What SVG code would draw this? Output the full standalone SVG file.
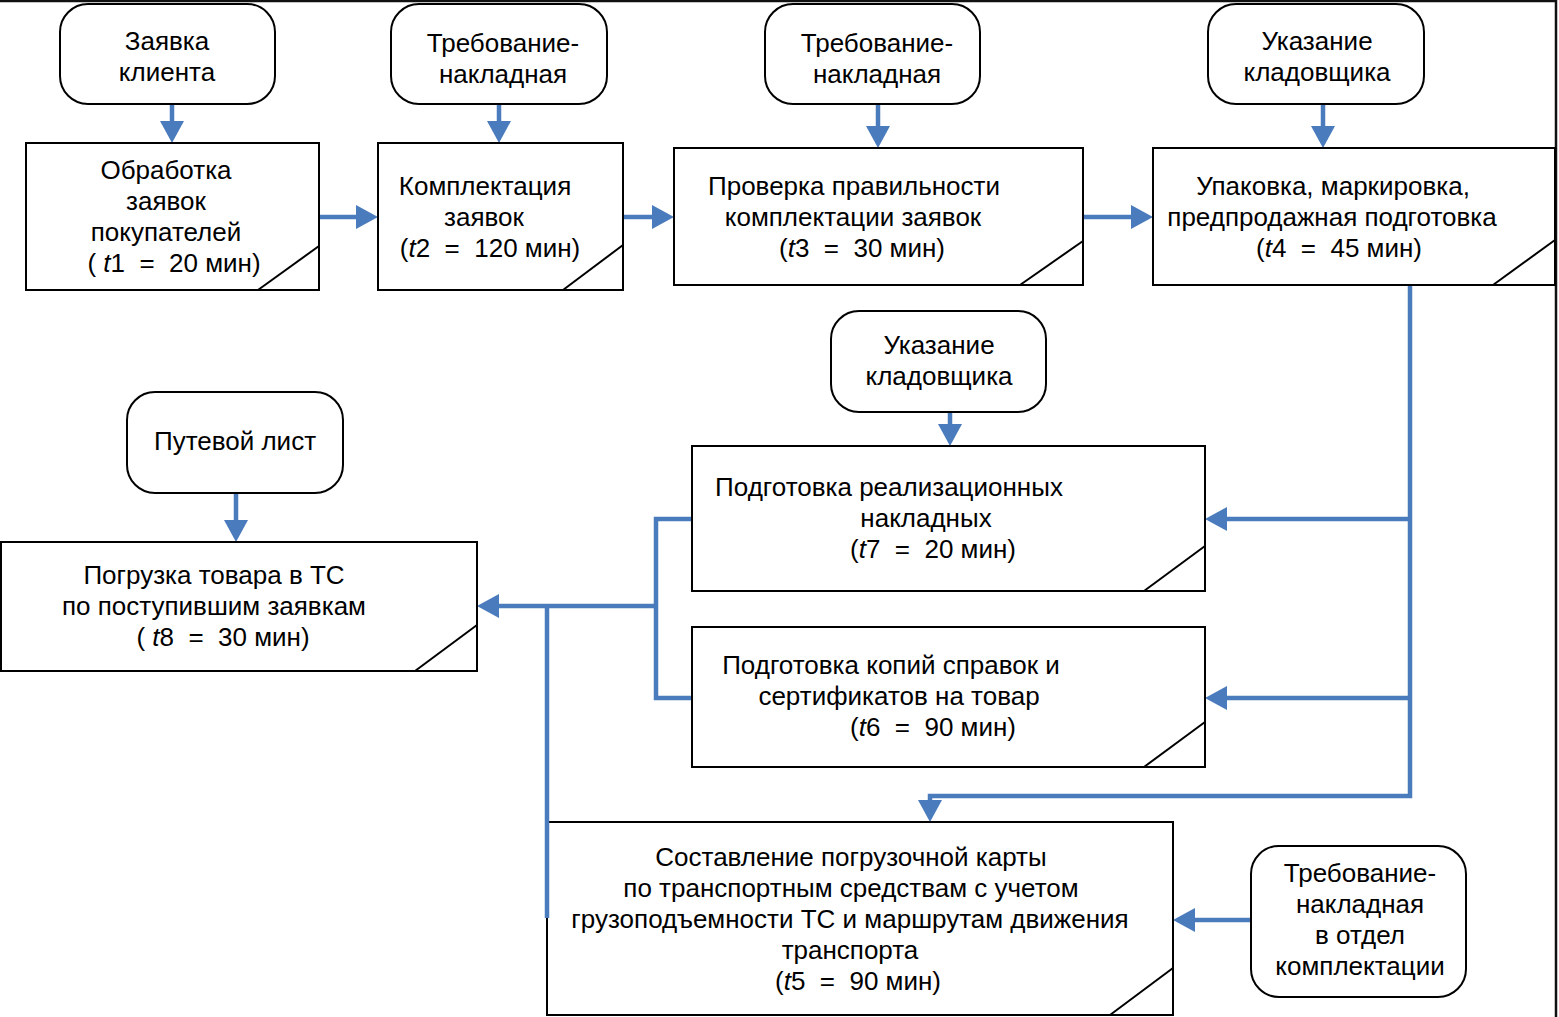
<svg xmlns="http://www.w3.org/2000/svg" width="1559" height="1017" viewBox="0 0 1559 1017">
<style>
text{font-family:"Liberation Sans",Arial,sans-serif;font-size:26px;fill:#000;text-anchor:middle;white-space:pre}
.doc{fill:#fff;stroke:#000;stroke-width:2}
.box{fill:#fff;stroke:#000;stroke-width:2}
.diag{stroke:#000;stroke-width:2;fill:none}
.con{fill:none;stroke:#4a7bbd;stroke-width:4.5;stroke-linejoin:miter}
.arr{marker-end:url(#ah)}
.i{font-style:italic}
</style>
<defs>
<marker id="ah" markerUnits="userSpaceOnUse" markerWidth="24" markerHeight="24" refX="0" refY="12" orient="auto" overflow="visible">
<path d="M0,0 L22,12 L0,24 z" fill="#4a7bbd"/>
</marker>
</defs>
<rect width="1559" height="1017" fill="#fff"/>
<path d="M0,1 H1556 V1017" fill="none" stroke="#111" stroke-width="2.5"/>

<g id="connectors">
<path class="con arr" d="M172,104 V121"/>
<path class="con arr" d="M499,104 V121"/>
<path class="con arr" d="M878,104 V126"/>
<path class="con arr" d="M1323,104 V126"/>
<path class="con arr" d="M950,412 V424"/>
<path class="con arr" d="M236,493 V520"/>
<path class="con arr" d="M319,217 H356"/>
<path class="con arr" d="M623,217 H652"/>
<path class="con arr" d="M1083,217 H1131"/>
<path class="con arr" d="M1410,285 V796 H930 V800"/>
<path class="con arr" d="M1410,519 H1227"/>
<path class="con arr" d="M1410,698 H1227"/>
<path class="con" d="M692,519 H656 V698 H692"/>
<path class="con arr" d="M656,606 H499"/>
<path class="con arr" d="M1251,920 H1195"/>
</g>

<g id="doc1"><rect class="doc" x="60" y="4" width="215" height="100" rx="28"/><text x="167" y="50">Заявка</text><text x="167" y="81">клиента</text></g>
<g id="doc2"><rect class="doc" x="391" y="4" width="216" height="100" rx="28"/><text x="503" y="52">Требование-</text><text x="503" y="83">накладная</text></g>
<g id="doc3"><rect class="doc" x="765" y="4" width="215" height="100" rx="28"/><text x="877" y="52">Требование-</text><text x="877" y="83">накладная</text></g>
<g id="doc4"><rect class="doc" x="1208" y="4" width="216" height="100" rx="28"/><text x="1317" y="50">Указание</text><text x="1317" y="81">кладовщика</text></g>
<g id="doc5"><rect class="doc" x="831" y="311" width="215" height="101" rx="28"/><text x="939" y="354">Указание</text><text x="939" y="385">кладовщика</text></g>
<g id="doc6"><rect class="doc" x="127" y="392" width="216" height="101" rx="28"/><text x="235" y="450">Путевой лист</text></g>
<g id="doc7"><rect class="doc" x="1251" y="846" width="215" height="151" rx="28"/><text x="1360" y="882">Требование-</text><text x="1360" y="913">накладная</text><text x="1360" y="944">в отдел</text><text x="1360" y="975">комплектации</text></g>

<g id="t1"><rect class="box" x="26" y="143" width="293" height="147"/><path class="diag" d="M258,290 L319,246"/>
<text x="166" y="179">Обработка</text><text x="166" y="210">заявок</text><text x="166" y="241">покупателей</text><text x="174" y="272">( <tspan class="i">t</tspan>1  =  20 мин)</text></g>
<g id="t2"><rect class="box" x="378" y="143" width="245" height="147"/><path class="diag" d="M563,290 L623,245"/>
<text x="485" y="195">Комплектация</text><text x="484" y="226">заявок</text><text x="490" y="257">(<tspan class="i">t</tspan>2  =  120 мин)</text></g>
<g id="t3"><rect class="box" x="674" y="148" width="409" height="137"/><path class="diag" d="M1020,285 L1083,241"/>
<text x="854" y="195">Проверка правильности</text><text x="853" y="226">комплектации заявок</text><text x="862" y="257">(<tspan class="i">t</tspan>3  =  30 мин)</text></g>
<g id="t4"><rect class="box" x="1153" y="148" width="402" height="137"/><path class="diag" d="M1493,285 L1555,240"/>
<text x="1333" y="195">Упаковка, маркировка,</text><text x="1332" y="226">предпродажная подготовка</text><text x="1339" y="257">(<tspan class="i">t</tspan>4  =  45 мин)</text></g>
<g id="t7"><rect class="box" x="692" y="446" width="513" height="145"/><path class="diag" d="M1144,591 L1205,546"/>
<text x="889" y="496">Подготовка реализационных</text><text x="926" y="527">накладных</text><text x="933" y="558">(<tspan class="i">t</tspan>7  =  20 мин)</text></g>
<g id="t6"><rect class="box" x="692" y="627" width="513" height="140"/><path class="diag" d="M1144,767 L1205,722"/>
<text x="891" y="674">Подготовка копий справок и</text><text x="899" y="705">сертификатов на товар</text><text x="933" y="736">(<tspan class="i">t</tspan>6  =  90 мин)</text></g>
<g id="t8"><rect class="box" x="1" y="542" width="476" height="129"/><path class="diag" d="M415,671 L477,625"/>
<text x="214" y="584">Погрузка товара в ТС</text><text x="214" y="615">по поступившим заявкам</text><text x="223" y="646">( <tspan class="i">t</tspan>8  =  30 мин)</text></g>
<g id="t5"><rect class="box" x="547" y="822" width="626" height="193"/><path class="diag" d="M1110,1015 L1173,968"/>
<text x="851" y="866">Составление погрузочной карты</text><text x="851" y="897">по транспортным средствам с учетом</text><text x="850" y="928">грузоподъемности ТС и маршрутам движения</text><text x="850" y="959">транспорта</text><text x="858" y="990">(<tspan class="i">t</tspan>5  =  90 мин)</text></g>
<path class="con" d="M547,606 V918"/>
</svg>
